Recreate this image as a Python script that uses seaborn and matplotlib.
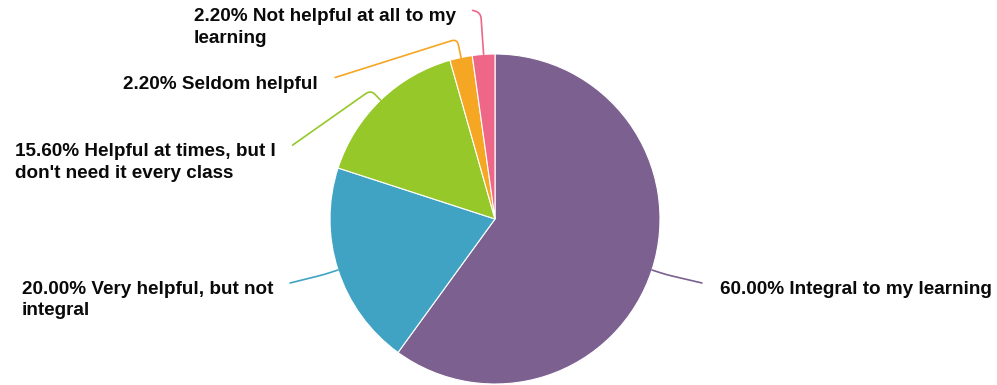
import numpy as np
import matplotlib
matplotlib.use("Agg")
import matplotlib.pyplot as plt
from matplotlib.path import Path
from matplotlib.patches import PathPatch
import seaborn as sns

# Survey responses (share of students, %)
categories = [
    "Integral to my learning",
    "Very helpful, but not\nintegral",
    "Helpful at times, but I\ndon't need it every class",
    "Seldom helpful",
    "Not helpful at all to my\nlearning",
]
shares = [60.00, 20.00, 15.60, 2.20, 2.20]
colors = ["#7B6090", "#41A3C3", "#96C829", "#F5A623", "#EE6789"]

sns.set_theme(style="white")
plt.rcParams["font.family"] = ["Liberation Sans", "DejaVu Sans"]

W, H = 997, 385
fig = plt.figure(figsize=(W / 100, H / 100), dpi=100)
ax = fig.add_axes([0, 0, 1, 1])

cx, cy, R = 495, 166, 165
wedges, _ = ax.pie(
    shares, colors=colors, startangle=90, counterclock=False,
    center=(cx, cy), radius=R, frame=True,
    wedgeprops=dict(edgecolor="white", linewidth=0.8),
)
ax.set_xlim(0, W)
ax.set_ylim(0, H)
ax.set_aspect("equal")
ax.axis("off")

# connector layout: (radial stub length, end point offset from anchor, label side)
layout = [
    (15, (50, -13), "left"),
    (15, (-48, -13), "right"),
    (14, (-88, -45), "right"),
    (19, (-126, -20), "right"),
    (42, (-11, 44), "right"),
]

for w, share, cat, col, (stub, (dx, dy), side) in zip(wedges, shares, categories, colors, layout):
    mid = np.deg2rad((w.theta1 + w.theta2) / 2)
    d = np.array([np.cos(mid), np.sin(mid)])
    a = np.array([cx, cy]) + R * d
    elbow = a + d * stub
    end = a + np.array([dx, dy])
    to_end = (end - elbow) / np.linalg.norm(end - elbow)
    c = min(6, stub * 0.5)
    verts = [a, elbow - d * c, elbow, elbow + to_end * c, end]
    codes = [Path.MOVETO, Path.LINETO, Path.CURVE3, Path.CURVE3, Path.LINETO]
    ax.add_patch(PathPatch(Path(verts, codes), facecolor="none",
                           edgecolor=col, linewidth=1.2, capstyle="round"))
    label = f"{share:.2f}% {cat}"
    if side == "left":
        tx, ha = end[0] + 18, "left"
    else:
        tx, ha = end[0] - 17, "right"
    ax.text(tx, end[1] + 2, label, ha=ha, va="top", multialignment="left",
            fontsize=13.6, fontweight="bold", color="#0a0a0a", linespacing=1.34)

fig.savefig("out.png", dpi=100, facecolor="white")
